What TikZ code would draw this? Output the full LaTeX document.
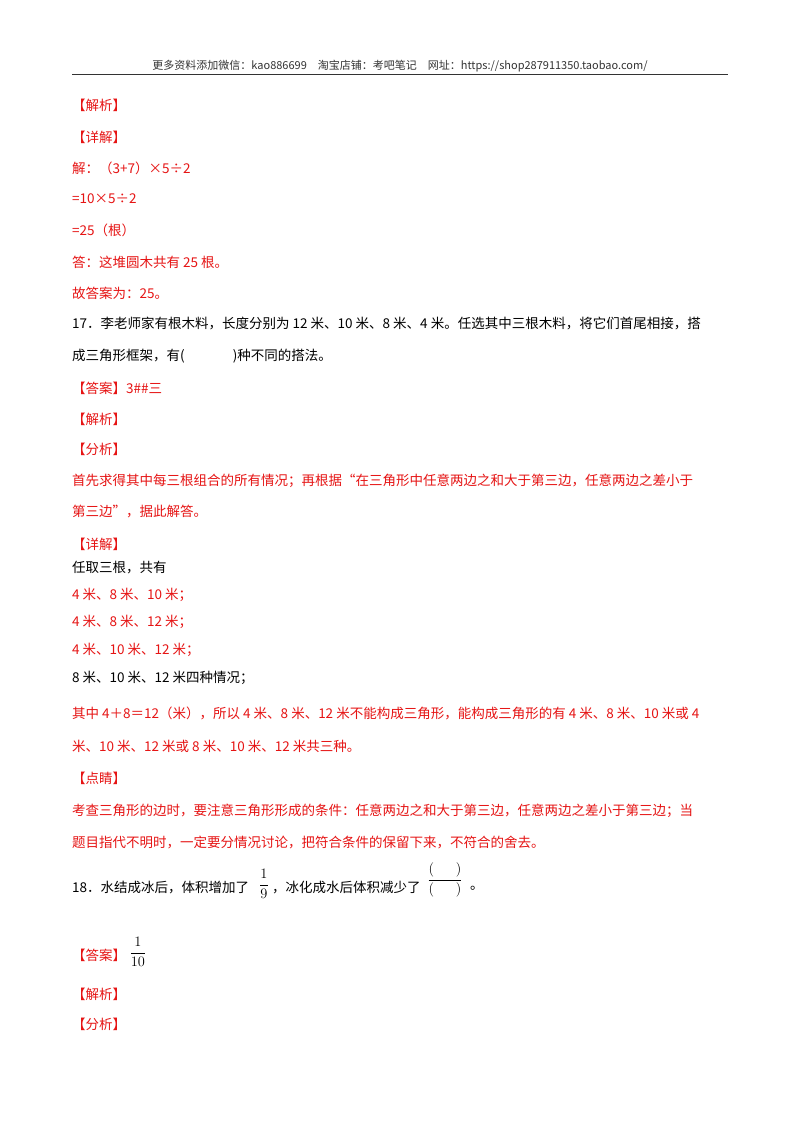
\documentclass[tikz,border=0pt]{standalone}
\usepackage{fontspec}
\setmainfont{Noto Sans CJK SC}
\definecolor{rd}{RGB}{230,20,20}
\begin{document}
\begin{tikzpicture}[x=1pt,y=-1pt,
 t/.style={anchor=west,inner sep=0pt,font=\fontsize{13.5}{16}\selectfont},
 r/.style={t,text=rd},
 fr/.style={inner sep=0pt,font=\fontsize{14}{16}\selectfont}]
\fill[white] (0,0) rectangle (800,1132);
\node[anchor=center,inner sep=0pt,font=\fontsize{11}{13}\selectfont,text=black!80] (h) at (400,66) {更多资料添加微信：kao886699\quad 淘宝店铺：考吧笔记\quad 网址：https://shop287911350.taobao.com/};
\coordinate (ra) at (72,74); \coordinate (rb) at (728,74);
\draw[line width=1pt,black!80] (ra) -- (rb);
\node[r] (a1) at (72,105) {【解析】};
\node[r] (a2) at (72,137) {【详解】};
\node[r] (a3) at (72,168) {解：（3+7）×5÷2};
\node[r] (a4) at (72,199) {=10×5÷2};
\node[r] (a5) at (72,230) {=25（根）};
\node[r] (a6) at (72,262) {答：这堆圆木共有 25 根。};
\node[r] (a7) at (72,293) {故答案为：25。};
\node[t] (b1) at (72,324) {17．李老师家有根木料，长度分别为 12 米、10 米、8 米、4 米。任选其中三根木料，将它们首尾相接，搭};
\node[t] (b2) at (72,356) {成三角形框架，有(\hspace{48pt})种不同的搭法。};
\node[r] (b3) at (72,388) {【答案】3\#\#三};
\node[r] (b4) at (72,419) {【解析】};
\node[r] (b5) at (72,449) {【分析】};
\node[r] (b6) at (72,481) {首先求得其中每三根组合的所有情况；再根据“在三角形中任意两边之和大于第三边，任意两边之差小于};
\node[r] (b7) at (72,512) {第三边”，据此解答。};
\node[r] (b8) at (72,544) {【详解】};
\node[t] (c1) at (72,568) {任取三根，共有};
\node[r] (c2) at (72,595) {4 米、8 米、10 米；};
\node[r] (c3) at (72,622) {4 米、8 米、12 米；};
\node[r] (c4) at (72,650) {4 米、10 米、12 米；};
\node[t] (c5) at (72,678) {8 米、10 米、12 米四种情况；};
\node[r] (c6) at (72,713) {其中 4＋8＝12（米），所以 4 米、8 米、12 米不能构成三角形，能构成三角形的有 4 米、8 米、10 米或 4};
\node[r] (c7) at (72,746) {米、10 米、12 米或 8 米、10 米、12 米共三种。};
\node[r] (c8) at (72,778) {【点睛】};
\node[r] (c9) at (72,811) {考查三角形的边时，要注意三角形形成的条件：任意两边之和大于第三边，任意两边之差小于第三边；当};
\node[r] (c10) at (72,842) {题目指代不明时，一定要分情况讨论，把符合条件的保留下来，不符合的舍去。};
\node[t] (d1) at (72,888) {18．水结成冰后，体积增加了};
\node[fr] (f1) at (264,884) {$\displaystyle\frac{1}{9}$};
\node[t] (d2) at (272,888) {，冰化成水后体积减少了};
\node[fr] (f2) at (445,880) {$\displaystyle\frac{(\hspace{22pt})}{(\hspace{22pt})}$};
\node[t] (d3) at (470,888) {。};
\node[r] (e1) at (72,955) {【答案】};
\node[fr] (f3) at (138,952) {$\displaystyle\frac{1}{10}$};
\node[r] (e2) at (72,994) {【解析】};
\node[r] (e3) at (72,1024) {【分析】};
\end{tikzpicture}
\end{document}
